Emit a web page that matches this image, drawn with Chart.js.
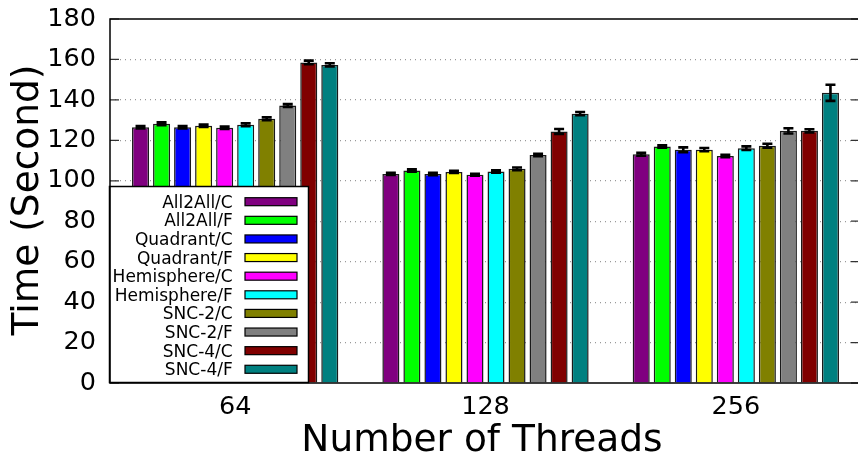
<!DOCTYPE html>
<html>
<head>
<meta charset="utf-8">
<script src="https://cdn.jsdelivr.net/npm/chart.js@4/dist/chart.umd.min.js"></script>
<style>
  html, body { margin: 0; padding: 0; background: #fff; overflow: hidden; }
  #wrap { position: absolute; left: 0; top: 0; width: 866px; height: 454px; }
</style>
</head>
<body>
<div id="wrap"><canvas id="myChart" width="866" height="454"></canvas></div>
<script>
const threads = ['64', '128', '256'];
const configs = ['All2All/C', 'All2All/F', 'Quadrant/C', 'Quadrant/F', 'Hemisphere/C',
                 'Hemisphere/F', 'SNC-2/C', 'SNC-2/F', 'SNC-4/C', 'SNC-4/F'];
const colors = ['#800080', '#00ff00', '#0000ff', '#ffff00', '#ff00ff',
                '#00ffff', '#808000', '#808080', '#800000', '#008080'];

// time (s) per config, one array per thread count
const time64  = [126.5, 128.2, 126.5, 127.2, 126.2, 127.7, 130.7, 137.2, 158.5, 157.3];
const time128 = [103.4, 105.1, 103.4, 104.4, 103.0, 104.6, 105.9, 112.8, 124.4, 133.2];
const time256 = [113.1, 116.9, 115.3, 115.4, 112.3, 116.1, 117.3, 124.7, 124.7, 143.5];
// error bar half-width
const err64  = [0.6, 0.7, 0.6, 0.6, 0.6, 0.7, 0.7, 0.7, 0.9, 0.8];
const err128 = [0.5, 0.6, 0.6, 0.5, 0.5, 0.6, 0.7, 0.6, 1.2, 0.8];
const err256 = [0.7, 0.6, 1.2, 0.8, 0.6, 0.9, 1.0, 1.3, 0.8, 4.0];

const yTicks = [0, 20, 40, 60, 80, 100, 120, 140, 160, 180];

const FONT = "'DejaVu Sans', sans-serif";

const datasets = configs.map((name, i) => ({
    label: name,
    data: [time64[i], time128[i], time256[i]],
    errors: [err64[i], err128[i], err256[i]],
    backgroundColor: colors[i],
    borderColor: '#1a1a1a',
    borderWidth: 1.5,
    categoryPercentage: 0.84,
    barPercentage: 0.81
}));

// error bars, inward ticks, legend box, frame and titles
const extras = {
    id: 'extras',
    afterDatasetsDraw(chart) {
        const ctx = chart.ctx;
        const y = chart.scales.y;
        const area = chart.chartArea;

        // error bars
        ctx.save();
        ctx.strokeStyle = '#000';
        ctx.lineWidth = 2.6;
        chart.data.datasets.forEach((ds, di) => {
            const meta = chart.getDatasetMeta(di);
            meta.data.forEach((bar, j) => {
                const v = ds.data[j], e = ds.errors[j];
                const hi = y.getPixelForValue(v + e);
                const lo = y.getPixelForValue(v - e);
                ctx.beginPath();
                ctx.moveTo(bar.x, hi); ctx.lineTo(bar.x, lo);
                ctx.moveTo(bar.x - 5, hi); ctx.lineTo(bar.x + 5, hi);
                ctx.moveTo(bar.x - 5, lo); ctx.lineTo(bar.x + 5, lo);
                ctx.stroke();
            });
        });
        ctx.restore();

        // inward ticks on both sides
        ctx.save();
        ctx.lineWidth = 1.2;
        ctx.strokeStyle = '#333';
        yTicks.forEach(t => {
            const py = y.getPixelForValue(t);
            ctx.beginPath();
            ctx.moveTo(area.left, py); ctx.lineTo(area.left + 9, py);
            ctx.moveTo(860, py); ctx.lineTo(851, py);
            ctx.stroke();
        });
        ctx.restore();

        // legend
        ctx.save();
        ctx.fillStyle = '#fff';
        ctx.fillRect(109.5, 186.5, 199, 196);
        ctx.strokeStyle = '#000';
        ctx.lineWidth = 1.5;
        ctx.strokeRect(109.5, 186.5, 199, 196);
        ctx.font = '17px ' + FONT;
        ctx.textAlign = 'right';
        ctx.textBaseline = 'alphabetic';
        configs.forEach((name, i) => {
            const cy = 201.7 + i * 18.62;
            ctx.fillStyle = '#000';
            ctx.fillText(name, 232.7, cy + 6);
            ctx.fillStyle = colors[i];
            ctx.fillRect(245, cy - 4, 52, 8);
            ctx.lineWidth = 1.2;
            ctx.strokeStyle = '#000';
            ctx.strokeRect(245, cy - 4, 52, 8);
        });
        ctx.restore();

        // frame (right edge falls outside the picture)
        ctx.save();
        ctx.strokeStyle = '#000';
        ctx.lineWidth = 1.5;
        ctx.beginPath();
        ctx.moveTo(866, area.top); ctx.lineTo(area.left, area.top);
        ctx.lineTo(area.left, area.bottom); ctx.lineTo(866, area.bottom);
        ctx.stroke();
        ctx.restore();

        // axis titles
        ctx.save();
        ctx.fillStyle = '#000';
        ctx.font = '37.5px ' + FONT;
        ctx.textAlign = 'center';
        ctx.textBaseline = 'alphabetic';
        ctx.fillText('Number of Threads', 482, 451);
        ctx.translate(38, 200);
        ctx.rotate(-Math.PI / 2);
        ctx.fillText('Time (Second)', 0, 0);
        ctx.restore();
    }
};

new Chart(document.getElementById('myChart'), {
    type: 'bar',
    data: { labels: threads, datasets: datasets },
    options: {
        responsive: false,
        animation: false,
        layout: { padding: { top: 19, right: 5, left: 0, bottom: 0 } },
        plugins: {
            legend: { display: false },
            tooltip: { enabled: false }
        },
        scales: {
            x: {
                afterFit(scale) {
                    scale.height = 71;
                    scale.paddingLeft = 0; scale.paddingRight = 0;
                },
                grid: { display: false, drawTicks: false },
                border: { display: false },
                ticks: { color: '#000', font: { family: FONT, size: 25.5 }, padding: 9 }
            },
            y: {
                min: 0,
                max: 180,
                afterFit(scale) {
                    scale.width = 110;
                    scale.paddingTop = 0; scale.paddingBottom = 0;
                },
                afterBuildTicks(scale) { scale.ticks = yTicks.map(v => ({ value: v })); },
                grid: {
                    drawTicks: false,
                    color: c => (c.tick.value === 0 || c.tick.value === 180) ? 'rgba(0,0,0,0)' : '#999',
                    lineWidth: 1.2
                },
                border: { display: false, dash: [1, 4] },
                ticks: { color: '#000', font: { family: FONT, size: 25.5 }, padding: 14 }
            }
        }
    },
    plugins: [extras]
});
</script>
</body>
</html>
